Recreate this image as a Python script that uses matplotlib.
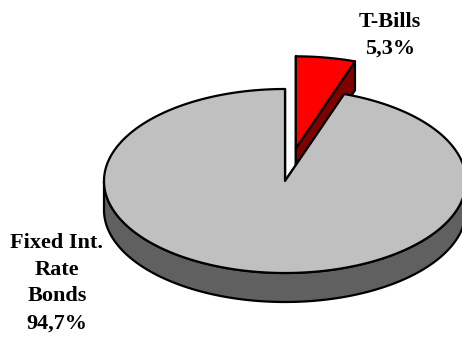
import numpy as np
import matplotlib.pyplot as plt
from matplotlib.patches import Polygon

labels = ['T-Bills', 'Fixed Int.\nRate\nBonds']
shares = [5.3, 94.7]
top_colors = ['#ff0000', '#c0c0c0']
side_colors = ['#800000', '#606060']
explode = [0.36, 0.0]

# pie geometry in pixel units
cx, cy = 285, 181
rx, ry = 181, 92
depth = 29

fig = plt.figure(figsize=(4.62, 3.40), dpi=100)
ax = fig.add_axes([0, 0, 1, 1])
ax.set_xlim(0, 462)
ax.set_ylim(340, 0)
ax.axis('off')


def pt(a, ox, oy, dz=0):
    return (ox + rx * np.cos(a), oy - ry * np.sin(a) + dz)


def arc(a0, a1, ox, oy, dz=0, n=200):
    t = np.linspace(a0, a1, n)
    return np.column_stack([ox + rx * np.cos(t), oy - ry * np.sin(t) + dz])


def draw_slice(a0, a1, ox, oy, top, side):
    # a0 > a1, going clockwise
    kw = dict(edgecolor='black', linewidth=1.6, joinstyle='round')
    # cut faces
    for a in (a0, a1):
        p = pt(a, ox, oy)
        quad = [(ox, oy), p, (p[0], p[1] + depth), (ox, oy + depth)]
        ax.add_patch(Polygon(quad, closed=True, facecolor=side, **kw))
    # outer rim, front-facing part (angles between pi and 2pi)
    lo, hi = a1, a0
    while lo < 0:
        lo += 2 * np.pi
        hi += 2 * np.pi
    for k in range(-1, 2):
        s = max(lo, np.pi + 2 * np.pi * k)
        e = min(hi, 2 * np.pi + 2 * np.pi * k)
        if s < e:
            t_arc = arc(s, e, ox, oy)
            b_arc = arc(e, s, ox, oy, depth)
            ax.add_patch(Polygon(np.vstack([t_arc, b_arc]), closed=True,
                                 facecolor=side, **kw))
    # top face
    face = np.vstack([[ox, oy], arc(a0, a1, ox, oy, n=400)])
    ax.add_patch(Polygon(face, closed=True, facecolor=top, **kw))


start = np.pi / 2
ang = []
for v in shares:
    span = v / sum(shares) * 2 * np.pi
    ang.append((start, start - span))
    start -= span

for i in range(len(shares)):
    a0, a1 = ang[i]
    mid = (a0 + a1) / 2
    ox = cx + explode[i] * rx * np.cos(mid)
    oy = cy - explode[i] * ry * np.sin(mid)
    draw_slice(a0, a1, ox, oy, top_colors[i], side_colors[i])

font = dict(family=['Liberation Serif', 'DejaVu Serif'], fontweight='bold',
            fontsize=16, ha='center', va='center', linespacing=1.45)
ax.text(390, 35, labels[0] + '\n' + f'{shares[0]:.1f}%'.replace('.', ','), **font)
ax.text(57, 283, labels[1] + '\n' + f'{shares[1]:.1f}%'.replace('.', ','), **font)

fig.savefig('out.png', dpi=100)
